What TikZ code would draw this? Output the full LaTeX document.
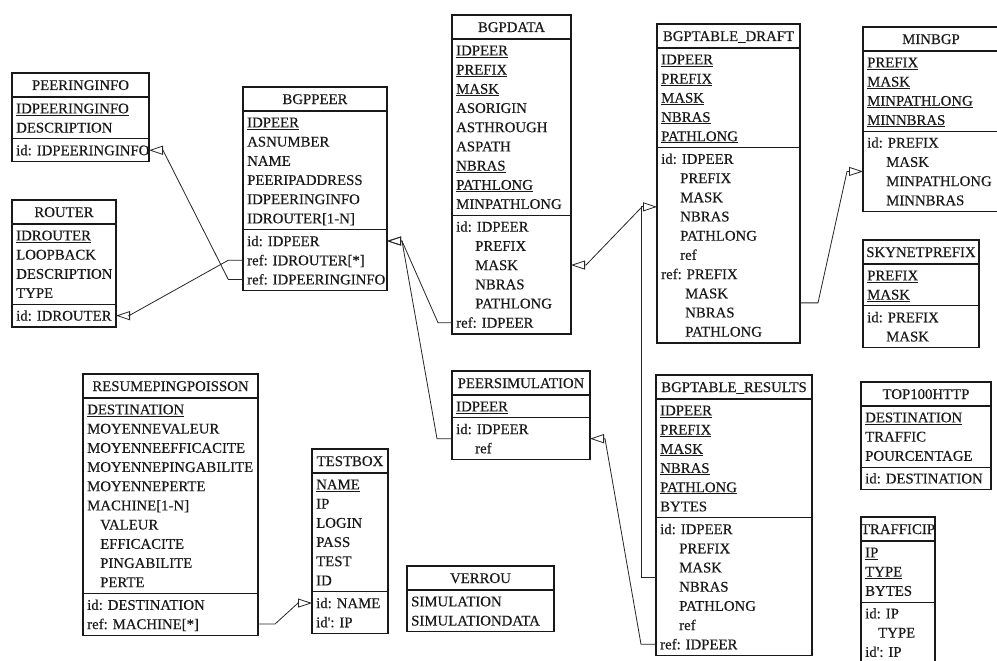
\documentclass[tikz,border=0pt]{standalone}
\usepackage{fontspec}
\setmainfont{Liberation Serif}
\newfontfamily\erfont{Liberation Serif}[FakeBold=0.3]
\usetikzlibrary{arrows.meta,calc}

% primary-key attributes are underlined; continuation rows are indented
\newcommand\pk[1]{\underline{#1}}
\newcommand\erin{\hspace*{19pt}}
\newcommand\erinb{\hspace*{24pt}}
\newcommand\erinc{\hspace*{13pt}}

\tikzset{
  tbl/.style={draw=black!90, line width=1.1pt, fill=white, inner sep=0pt, outer sep=0pt, anchor=north west},
  rowtxt/.style={inner sep=0pt, text height=13pt, text depth=3pt, anchor=west,
                 font=\erfont\fontsize{14.8}{17}\selectfont, text=black!90},
  ttl/.style={rowtxt, anchor=center},
  sep/.style={draw=black!90, line width=1.1pt},
  fk/.style={draw=black!85, line width=0.8pt,
             -{Triangle[open, length=14pt, width=9pt, line width=0.8pt]}},
}

% \ertable{name}{left}{top}{width}{title}{#attributes}{attributes}{#keys}{keys}
\newcommand\ertable[9]{%
  \pgfmathsetmacro\erT{#3+24}%
  \pgfmathsetmacro\erK{\erT+#6*19.2+3.5}%
  \ifnum#8=0 \let\erB\erK\else\pgfmathsetmacro\erB{\erK+#8*19.2+3.5}\fi
  \pgfmathsetmacro\erH{\erB-#3}%
  \node[tbl, minimum width=#4pt, minimum height=\erH pt] (#1) at (#2,#3) {};
  \node[ttl] (#1-t) at (#2+#4/2,#3+12) {#5};
  \draw[sep] (#2,\erT) -- ++(#4,0);
  \foreach \r [count=\i from 0] in {#7} {\node[rowtxt] (#1-a\i) at (#2+4,\erT+11.35+19.2*\i) {\r};}
  \ifnum#8>0
    \draw[sep] (#2,\erK) -- ++(#4,0);
    \foreach \r [count=\i from 0] in {#9} {\node[rowtxt] (#1-k\i) at (#2+4,\erK+11.35+19.2*\i) {\r};}
  \fi
}

\begin{document}
\begin{tikzpicture}[x=1pt,y=-1pt]
\fill[white] (0,0) rectangle (997,661);
\useasboundingbox (0,0) rectangle (997,661);

% tables
\ertable{peeringinfo}{12}{73}{137}{PEERINGINFO}{2}{\pk{IDPEERINGINFO},DESCRIPTION}{1}{id: IDPEERINGINFO}
\ertable{router}{12}{200}{104}{ROUTER}{4}{\pk{IDROUTER},LOOPBACK,DESCRIPTION,TYPE}{1}{id: IDROUTER}
\ertable{bgppeer}{243}{87}{144}{BGPPEER}{6}{\pk{IDPEER},ASNUMBER,NAME,PEERIPADDRESS,IDPEERINGINFO,{IDROUTER[1-N]}}{3}{id: IDPEER,{ref: IDROUTER[*]},ref: IDPEERINGINFO}
\ertable{bgpdata}{452}{15}{119}{BGPDATA}{9}{\pk{IDPEER},\pk{PREFIX},\pk{MASK},ASORIGIN,ASTHROUGH,ASPATH,\pk{NBRAS},\pk{PATHLONG},MINPATHLONG}{6}{id: IDPEER,\erin PREFIX,\erin MASK,\erin NBRAS,\erin PATHLONG,ref: IDPEER}
\ertable{draft}{657}{24}{143}{BGPTABLE\_DRAFT}{5}{\pk{IDPEER},\pk{PREFIX},\pk{MASK},\pk{NBRAS},\pk{PATHLONG}}{10}{id: IDPEER,\erin PREFIX,\erin MASK,\erin NBRAS,\erin PATHLONG,\erin ref,ref: PREFIX,\erinb MASK,\erinb NBRAS,\erinb PATHLONG}
\ertable{minbgp}{863}{27}{136}{MINBGP}{4}{\pk{PREFIX},\pk{MASK},\pk{MINPATHLONG},\pk{MINNBRAS}}{4}{id: PREFIX,\erin MASK,\erin MINPATHLONG,\erin MINNBRAS}
\ertable{skynet}{863}{240}{116}{SKYNETPREFIX}{2}{\pk{PREFIX},\pk{MASK}}{2}{id: PREFIX,\erin MASK}
\ertable{top100}{861}{382}{130}{TOP100HTTP}{3}{\pk{DESTINATION},TRAFFIC,POURCENTAGE}{1}{id: DESTINATION}
\ertable{trafficip}{861}{517}{74}{TRAFFICIP}{3}{\pk{IP},\pk{TYPE},BYTES}{3}{id: IP,\erinc TYPE,id': IP}
\ertable{results}{656}{375}{156}{BGPTABLE\_RESULTS}{6}{\pk{IDPEER},\pk{PREFIX},\pk{MASK},\pk{NBRAS},\pk{PATHLONG},BYTES}{7}{id: IDPEER,\erin PREFIX,\erin MASK,\erin NBRAS,\erin PATHLONG,\erin ref,ref: IDPEER}
\ertable{peersim}{452}{371}{138}{PEERSIMULATION}{1}{\pk{IDPEER}}{2}{id: IDPEER,\erin ref}
\ertable{resume}{83}{374}{175}{RESUMEPINGPOISSON}{10}{\pk{DESTINATION},MOYENNEVALEUR,MOYENNEEFFICACITE,MOYENNEPINGABILITE,MOYENNEPERTE,{MACHINE[1-N]},\erinc VALEUR,\erinc EFFICACITE,\erinc PINGABILITE,\erinc PERTE}{2}{id: DESTINATION,{ref: MACHINE[*]}}
\ertable{testbox}{312}{449}{76}{TESTBOX}{6}{\pk{NAME},IP,LOGIN,PASS,TEST,ID}{2}{id: NAME,id': IP}
\ertable{verrou}{407}{566}{147}{VERROU}{2}{SIMULATION,SIMULATIONDATA}{0}{}

% attachment points of multi-row groups
\coordinate (psid) at ($(peersim-k0)!.5!(peersim-k1)$);
\coordinate (bdid) at ($(bgpdata-k0)!.5!(bgpdata-k4)$);
\coordinate (dfid) at ($(draft-k0)!.5!(draft-k5)$);
\coordinate (dfref) at ($(draft-k6)!.5!(draft-k9)$);
\coordinate (mbid) at ($(minbgp-k0)!.5!(minbgp-k3)$);
\coordinate (rsid) at ($(results-k0)!.5!(results-k5)$);

% foreign keys
\draw[fk] (bgppeer.west |- bgppeer-k2) -- ++(-14.7,0)
  -- ($(peeringinfo.east |- peeringinfo-k0)+(14,0)$) -- (peeringinfo.east |- peeringinfo-k0);
\draw[fk] (bgppeer.west |- bgppeer-k1) -- ++(-14.7,0)
  -- ($(router.east |- router-k0)+(13,0)$) -- (router.east |- router-k0);
\draw[fk] (bgpdata.west |- bgpdata-k5) -- ++(-14,0)
  -- ($(bgppeer.east |- bgppeer-k0)+(15,0)$) -- (bgppeer.east |- bgppeer-k0);
\draw[fk] (peersim.west |- psid) -- ++(-15,0)
  -- ($(bgppeer.east |- bgppeer-k0)+(15,0)$) -- (bgppeer.east |- bgppeer-k0);
\draw[fk] ($(draft.west |- dfid)+(-15,0)$)
  -- ($(bgpdata.east |- bdid)+(15,0)$) -- (bgpdata.east |- bdid);
\draw[fk] (results.west |- rsid) -- ++(-15,0) |- (draft.west |- dfid);
\draw[fk] (draft.east |- dfref) -- ++(18,0)
  -- ($(minbgp.west |- mbid)+(-16,0)$) -- (minbgp.west |- mbid);
\draw[fk] (results.west |- results-k6) -- ++(-15,0)
  -- ($(peersim.east |- psid)+(15,0)$) -- (peersim.east |- psid);
\draw[fk] (resume.east |- resume-k1) -- ++(17,0)
  -- ($(testbox.west |- testbox-k0)+(-14,0)$) -- (testbox.west |- testbox-k0);
\end{tikzpicture}
\end{document}
